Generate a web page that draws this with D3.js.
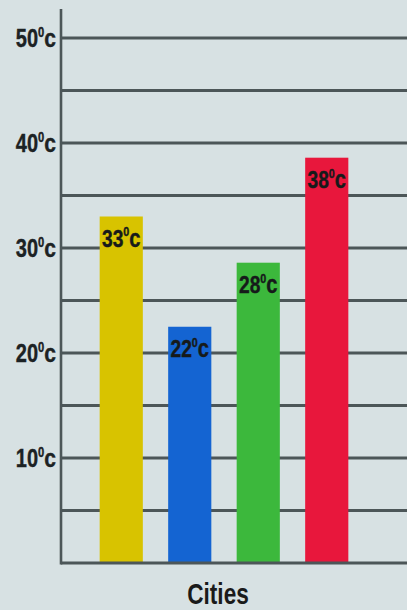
<!DOCTYPE html>
<html><head><meta charset="utf-8">
<script src="https://cdn.jsdelivr.net/npm/d3@7"></script>
<style>
html,body{margin:0;padding:0;background:#d7e1e3;}
svg{display:block;}
text{font-family:"Liberation Sans",Arial,sans-serif;font-weight:bold;}
</style></head>
<body>
<svg id="chart" width="407" height="610"></svg>
<script>
const categories = ["City A","City B","City C","City D"];
const values = [33, 22.5, 28.6, 38.6];
const valueLabels = ["33","22","28","38"];
const colors = ["#d8c300","#1464d2","#3cb83c","#e8173c"];
const yTicks = [10,20,30,40,50];
const gridTicks = [5,10,15,20,25,30,35,40,45,50];
const xTitle = "Cities";

const svg = d3.select("#chart");
svg.append("rect").attr("width",407).attr("height",610).attr("fill","#d7e1e3");

const y = d3.scaleLinear().domain([0,50]).range([563,38]);
const x = d3.scaleBand().domain(categories).range([87,361]).paddingInner(0.37).paddingOuter(0.185);
const axisX = 61;
const lineColor = "#4c5658";

// gridlines
svg.append("g").selectAll("line").data(gridTicks).join("line")
  .attr("x1",axisX).attr("x2",407)
  .attr("y1",d=>y(d)).attr("y2",d=>y(d))
  .attr("stroke",lineColor).attr("stroke-width",2.8);

// bars
svg.append("g").selectAll("rect").data(categories).join("rect")
  .attr("x",d=>x(d)).attr("width",x.bandwidth())
  .attr("y",(d,i)=>y(values[i])).attr("height",(d,i)=>y(0)-y(values[i]))
  .attr("fill",(d,i)=>colors[i]);

// baseline and axis
svg.append("line").attr("x1",axisX).attr("x2",407).attr("y1",y(0)).attr("y2",y(0))
  .attr("stroke",lineColor).attr("stroke-width",2.8);
svg.append("line").attr("x1",axisX).attr("x2",axisX).attr("y1",9).attr("y2",y(0)+1.4)
  .attr("stroke",lineColor).attr("stroke-width",2.6);

function degLabel(sel, num, size){
  sel.append("tspan").text(num);
  sel.append("tspan").attr("font-size",size*0.56).attr("dy",-size*0.42).text("0");
  sel.append("tspan").attr("dy",size*0.42).attr("font-size",size*1.05).text("c");
}

// y tick labels
svg.append("g").selectAll("text").data(yTicks).join("text")
  .attr("transform",d=>`translate(56,${y(d)+9}) scale(0.8,1)`)
  .attr("text-anchor","end")
  .attr("font-size",25).attr("fill","#1c2224")
  .attr("stroke","#1c2224").attr("stroke-width",0.4)
  .each(function(d){ degLabel(d3.select(this), d, 25); });

// value labels
svg.append("g").selectAll("text").data(categories).join("text")
  .attr("transform",(d,i)=>`translate(${x(d)+x.bandwidth()/2},${y(values[i])+30}) scale(0.8,1)`)
  .attr("text-anchor","middle").attr("font-size",24).attr("fill","#161a1a")
  .attr("stroke","#161a1a").attr("stroke-width",0.4)
  .each(function(d,i){ degLabel(d3.select(this), valueLabels[i], 24); });

svg.append("text").attr("transform","translate(218,604) scale(0.78,1)")
  .attr("text-anchor","middle")
  .attr("font-size",29).attr("fill","#1a1a1a").text(xTitle);
</script>
</body></html>
